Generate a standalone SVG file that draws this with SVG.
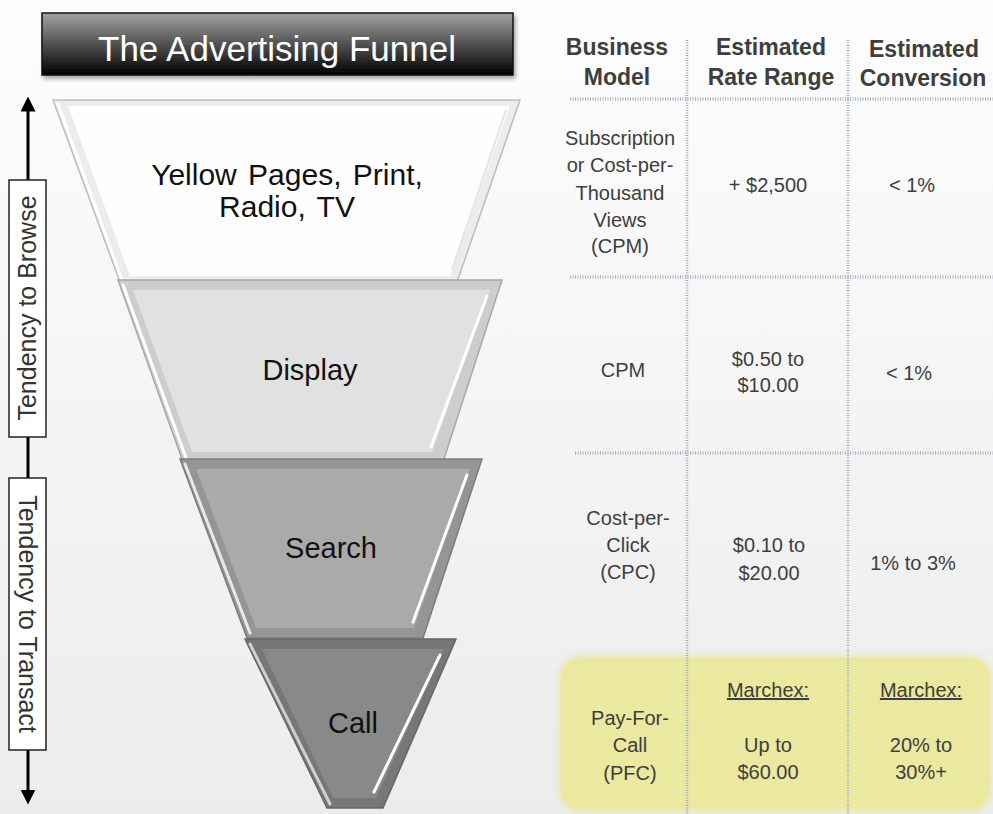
<svg xmlns="http://www.w3.org/2000/svg" width="993" height="814" viewBox="0 0 993 814">
<defs>
<linearGradient id="bg" x1="0" y1="0" x2="0" y2="1">
<stop offset="0" stop-color="#fdfdfd"/><stop offset="1" stop-color="#ececec"/>
</linearGradient>
<linearGradient id="title" x1="0" y1="0" x2="0" y2="1">
<stop offset="0" stop-color="#a3a3a3"/><stop offset="0.55" stop-color="#4a4a4a"/><stop offset="1" stop-color="#000"/>
</linearGradient>
<marker id="ah" viewBox="0 0 10 10" refX="5" refY="5" markerWidth="5" markerHeight="5" orient="auto-start-reverse" markerUnits="strokeWidth">
<path d="M0,0 L10,5 L0,10 z" fill="#000"/>
</marker>
<filter id="sh" x="-10%" y="-10%" width="120%" height="130%">
<feGaussianBlur in="SourceAlpha" stdDeviation="2"/><feOffset dx="2" dy="3"/>
<feComponentTransfer><feFuncA type="linear" slope="0.35"/></feComponentTransfer>
<feMerge><feMergeNode/><feMergeNode in="SourceGraphic"/></feMerge>
</filter>
<filter id="glow" x="-5%" y="-10%" width="110%" height="120%">
<feGaussianBlur stdDeviation="3"/>
</filter>
</defs>
<style>
.t{font-family:"Liberation Sans",Arial,sans-serif;}
.fn{font-family:"Liberation Sans",Arial,sans-serif;font-size:29px;fill:#111;text-anchor:middle;}
.fn30{font-size:30px;word-spacing:3px;}
.hd{font-family:"Liberation Sans",Arial,sans-serif;font-size:23px;font-weight:bold;fill:#3e3e3e;text-anchor:middle;}
.cl{font-family:"Liberation Sans",Arial,sans-serif;font-size:20px;fill:#3e3e3e;text-anchor:middle;}
.ax{font-family:"Liberation Sans",Arial,sans-serif;font-size:25px;fill:#333;text-anchor:middle;}
.vd{stroke:#9fb0c4;stroke-width:2.5;stroke-dasharray:1 1.5;fill:none;}
.hz{stroke:#a9b5c6;stroke-width:3.5;stroke-dasharray:1 1.5;fill:none;}
.hl{stroke:#fff;stroke-width:3;fill:none;stroke-linecap:round;}
</style>
<rect width="993" height="814" fill="url(#bg)"/>

<g id="title-box">
<rect x="42" y="13" width="471" height="62" fill="url(#title)" stroke="#111" stroke-width="1.5" filter="url(#sh)"/>
<text x="277" y="61" class="t" font-size="35" fill="#fff" text-anchor="middle">The Advertising Funnel</text>
</g>

<g id="connectors">
<line x1="28" y1="104" x2="28" y2="180" stroke="#000" stroke-width="3" marker-start="url(#ah)"/>
<line x1="28" y1="437" x2="28" y2="478" stroke="#000" stroke-width="3"/>
<line x1="28" y1="750" x2="28" y2="797" stroke="#000" stroke-width="3" marker-end="url(#ah)"/>
</g>

<g id="axis-browse">
<rect x="9" y="180" width="37" height="257" fill="#fff" stroke="#222" stroke-width="1.5"/>
<text class="ax" transform="translate(36,308) rotate(-90)">Tendency to Browse</text>
</g>
<g id="axis-transact">
<rect x="9" y="478" width="37" height="272" fill="#fff" stroke="#222" stroke-width="1.5"/>
<text class="ax" transform="translate(19,614) rotate(90)">Tendency to Transact</text>
</g>

<g id="seg-yellow-pages">
<polygon points="53,100 520,100 457,282 120,282" fill="#ececec" stroke="#bdbdbd" stroke-width="1.5"/>
<polygon points="68,106 510,106 450,276 130,276" fill="#fefefe"/>
<line x1="58" y1="104" x2="122" y2="280" class="hl"/>
<line x1="506" y1="110" x2="452" y2="270" stroke="#e4e4e4" stroke-width="2"/>
<text class="fn fn30" x="287" y="185">Yellow Pages, Print,</text>
<text class="fn fn30" x="287" y="217">Radio, TV</text>
</g>

<g id="seg-display">
<polygon points="118,280 502,280 443,462 183,462" fill="#cdcdcd" stroke="#a8a8a8" stroke-width="1.5"/>
<polygon points="133,290 490,290 432,452 192,452" fill="#e1e1e1"/>
<line x1="123" y1="285" x2="186" y2="458" class="hl"/>
<line x1="487" y1="296" x2="431" y2="447" class="hl"/>
<text class="fn" x="310" y="380">Display</text>
</g>

<g id="seg-search">
<polygon points="180,459 482,459 423,638 247,638" fill="#959595" stroke="#7c7c7c" stroke-width="1.5"/>
<polygon points="196,469 470,469 414,628 256,628" fill="#aaaaaa"/>
<line x1="185" y1="464" x2="250" y2="633" stroke="#e8e8e8" stroke-width="3" stroke-linecap="round"/>
<line x1="467" y1="475" x2="413" y2="622" class="hl"/>
<text class="fn" x="331" y="558">Search</text>
</g>

<g id="seg-call">
<polygon points="245,639 456,639 383,808 327,808" fill="#777777" stroke="#666" stroke-width="1.5"/>
<polygon points="262,649 444,649 376,798 333,798" fill="#898989"/>
<line x1="250" y1="644" x2="330" y2="804" stroke="#cfcfcf" stroke-width="3" stroke-linecap="round"/>
<line x1="440" y1="655" x2="374" y2="792" class="hl"/>
<text class="fn" x="353" y="733">Call</text>
</g>

<g id="pfc-highlight">
<rect x="558" y="655" width="434" height="157" rx="22" fill="#e7e38c" opacity="0.6" filter="url(#glow)"/>
<rect x="561" y="658" width="428" height="151" rx="20" fill="#ebe89f"/>
</g>

<g id="grid">
<line class="vd" x1="687" y1="40" x2="687" y2="814"/>
<line class="vd" x1="848" y1="40" x2="848" y2="814"/>
<line class="hz" x1="570" y1="99" x2="993" y2="99"/>
<line class="hz" x1="570" y1="277" x2="993" y2="277"/>
<line class="hz" x1="575" y1="453" x2="993" y2="453"/>
</g>

<g id="headers">
<text class="hd" x="617" y="55">Business</text>
<text class="hd" x="617" y="85">Model</text>
<text class="hd" x="771" y="55">Estimated</text>
<text class="hd" x="771" y="85">Rate Range</text>
<text class="hd" x="924" y="57">Estimated</text>
<text class="hd" x="923" y="86">Conversion</text>
</g>

<g id="row-print">
<text class="cl" x="620" y="145">Subscription</text>
<text class="cl" x="620" y="172">or Cost-per-</text>
<text class="cl" x="620" y="200">Thousand</text>
<text class="cl" x="620" y="227">Views</text>
<text class="cl" x="620" y="253">(CPM)</text>
<text class="cl" x="768" y="192">+ $2,500</text>
<text class="cl" x="912" y="192">&lt; 1%</text>
</g>

<g id="row-display">
<text class="cl" x="623" y="377">CPM</text>
<text class="cl" x="768" y="366">$0.50 to</text>
<text class="cl" x="768" y="392">$10.00</text>
<text class="cl" x="909" y="380">&lt; 1%</text>
</g>

<g id="row-search">
<text class="cl" x="628" y="525">Cost-per-</text>
<text class="cl" x="628" y="552">Click</text>
<text class="cl" x="628" y="579">(CPC)</text>
<text class="cl" x="769" y="552">$0.10 to</text>
<text class="cl" x="769" y="580">$20.00</text>
<text class="cl" x="913" y="570">1% to 3%</text>
</g>

<g id="row-call">
<text class="cl" x="630" y="725">Pay-For-</text>
<text class="cl" x="630" y="752">Call</text>
<text class="cl" x="630" y="780">(PFC)</text>
<text class="cl" x="768" y="697" text-decoration="underline">Marchex:</text>
<text class="cl" x="768" y="752">Up to</text>
<text class="cl" x="768" y="779">$60.00</text>
<text class="cl" x="921" y="697" text-decoration="underline">Marchex:</text>
<text class="cl" x="921" y="752">20% to</text>
<text class="cl" x="921" y="779">30%+</text>
</g>
</svg>
